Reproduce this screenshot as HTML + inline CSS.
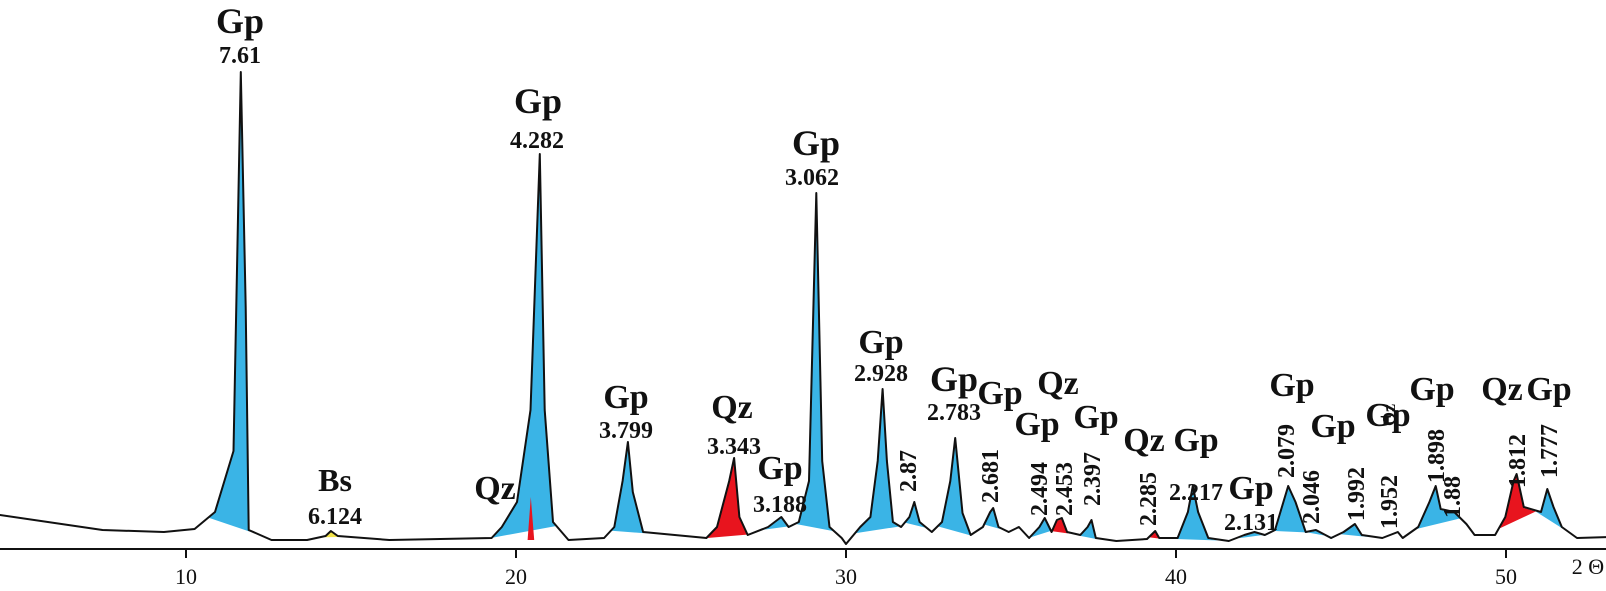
<!DOCTYPE html>
<html><head><meta charset="utf-8"><style>
html,body{margin:0;padding:0;background:#fff}
svg{display:block}
.lb{font-family:"Liberation Serif",serif;font-weight:bold;fill:#111}
.tk{font-family:"Liberation Serif",serif;fill:#111;font-size:22px}
</style></head><body>
<svg id="chart" width="1606" height="591" viewBox="0 0 1606 591" xmlns="http://www.w3.org/2000/svg">
<g id="fills"></g>
<g id="trace"></g>
<g id="axis"></g>
<g id="labels"></g>
</svg>
<script>
const twoTheta=[4.36,7.47,9.33,10.26,10.88,11.44,11.66,11.81,11.90,12.59,13.67,14.23,14.39,14.60,16.16,19.26,19.57,20.03,20.44,20.72,20.87,21.12,21.59,22.67,22.98,23.23,23.39,23.54,23.85,25.77,26.09,26.46,26.61,26.77,27.02,27.64,28.04,28.26,28.57,28.88,29.10,29.28,29.50,29.87,30.00,30.43,30.74,30.96,31.11,31.24,31.42,31.67,31.92,32.07,32.23,32.60,32.91,33.16,33.31,33.53,33.78,34.15,34.37,34.46,34.62,34.93,35.24,35.55,35.86,36.02,36.23,36.39,36.54,36.70,37.10,37.32,37.44,37.57,38.19,39.12,39.37,39.49,40.05,40.36,40.51,40.67,40.98,41.60,42.07,42.38,42.69,43.00,43.40,43.62,43.93,44.24,44.70,45.08,45.42,45.63,46.25,46.72,46.87,47.34,47.68,47.87,48.02,48.43,48.80,49.05,49.67,49.98,50.23,50.32,50.54,51.06,51.25,51.44,51.69,52.15,54.20];
const intensity=[34,19,17,20,37,98,477,242,19,9,9,13,18,13,9,11,22,47,139,395,139,27,9,11,22,68,107,57,17,11,22,68,91,32,14,22,32,22,27,68,356,88,22,11,5,22,32,88,160,88,27,22,32,47,27,17,27,68,111,36,14,22,37,41,22,17,22,11,22,31,17,29,31,17,14,22,29,11,8,10,18,11,11,37,63,37,11,8,14,17,14,19,63,47,17,19,11,17,25,14,11,17,11,22,47,63,40,37,25,14,14,32,68,75,42,37,60,42,22,11,13];
const segStart=[10.7,19.3,22.9,25.8,27.5,28.5,30.3,31.8,32.8,34.2,35.6,36.2,37.0,39.2,40.0,41.9,43.0,44.0,45.0,47.3,48.6,49.8,50.9,14.2];
const segEnd=[12.0,21.2,24.0,27.0,28.4,29.6,31.6,32.4,33.8,34.7,36.2,36.8,37.6,39.6,41.3,42.8,44.0,44.8,45.9,48.6,49.1,50.9,51.7,14.6];
const segPhase=["Gp","Gp","Gp","Qz","Gp","Gp","Gp","Gp","Gp","Gp","Gp","Qz","Gp","Qz","Gp","Gp","Gp","Gp","Gp","Gp","Gp","Qz","Gp","Bs"];
const spikeTheta=[20.35,20.45,20.55];
const spikeInt=[9,52,9];
const tickValues=[10,20,30,40,50];
const tickLabels=["10","20","30","40","50"];
const NS="http://www.w3.org/2000/svg";
const xS=t=>186+(t-10)*33;
const yS=v=>549-v;
const col={Gp:"#3ab4e6",Qz:"#e8141e",Bs:"#f2e34a"};
function interp(t){for(let i=0;i<twoTheta.length-1;i++){if(t>=twoTheta[i]&&t<=twoTheta[i+1]){const f=(t-twoTheta[i])/(twoTheta[i+1]-twoTheta[i]);return intensity[i]+f*(intensity[i+1]-intensity[i]);}}return intensity[intensity.length-1];}
const fills=document.getElementById('fills');
for(let s=0;s<segStart.length;s++){
  const pts=[[segStart[s],interp(segStart[s])]];
  for(let i=0;i<twoTheta.length;i++){if(twoTheta[i]>segStart[s]&&twoTheta[i]<segEnd[s])pts.push([twoTheta[i],intensity[i]]);}
  pts.push([segEnd[s],interp(segEnd[s])]);
  const p=document.createElementNS(NS,'polygon');
  p.setAttribute('points',pts.map(q=>xS(q[0]).toFixed(1)+','+(yS(q[1])+1).toFixed(1)).join(' '));
  p.setAttribute('fill',col[segPhase[s]]);
  
  
  fills.appendChild(p);
}
const sp=document.createElementNS(NS,'polygon');
sp.setAttribute('points',spikeTheta.map((t,i)=>xS(t).toFixed(1)+','+yS(spikeInt[i]).toFixed(1)).join(' '));
sp.setAttribute('fill',col.Qz);


fills.appendChild(sp);
const tr=document.createElementNS(NS,'polyline');
tr.setAttribute('points',twoTheta.map((t,i)=>xS(t).toFixed(1)+','+yS(intensity[i]).toFixed(1)).join(' '));
tr.setAttribute('fill','none');tr.setAttribute('stroke','#111');tr.setAttribute('stroke-width','2');tr.setAttribute('stroke-linejoin','round');


document.getElementById('trace').appendChild(tr);
const ax=document.getElementById('axis');
const al=document.createElementNS(NS,'line');
al.setAttribute('x1',0);al.setAttribute('x2',1606);al.setAttribute('y1',549);al.setAttribute('y2',549);al.setAttribute('stroke','#111');al.setAttribute('stroke-width','2');


ax.appendChild(al);
tickValues.forEach((v,i)=>{
  const l=document.createElementNS(NS,'line');
  l.setAttribute('x1',xS(v));l.setAttribute('x2',xS(v));l.setAttribute('y1',549);l.setAttribute('y2',558);l.setAttribute('stroke','#111');l.setAttribute('stroke-width','2');
  
  
  ax.appendChild(l);
  const t=document.createElementNS(NS,'text');
  t.setAttribute('x',xS(v));t.setAttribute('y',584);t.setAttribute('text-anchor','middle');t.setAttribute('class','tk');t.textContent=tickLabels[i];
  
  
  ax.appendChild(t);
});
const xt=document.createElementNS(NS,'text');
xt.setAttribute('x',1588);xt.setAttribute('y',574);xt.setAttribute('text-anchor','middle');xt.setAttribute('class','tk');xt.setAttribute('font-size','20');xt.textContent='2 Θ';


ax.appendChild(xt);
const labTxt=["Gp","7.61","Gp","4.282","Gp","3.062","Bs","6.124","Qz","Gp","3.799","Qz","3.343","Gp","3.188","Gp","2.928","2.87","Gp","2.783","Gp","2.681","Qz","Gp","2.494","2.453","Gp","2.397","Qz","2.285","Gp","2.217","Gp","2.131","Gp","2.079","Gp","2.046","Gp","1.992","1.952","Qz","Gp","1.898","1.88","Qz","1.812","Gp","1.777"];
const labX=[240,240,538,537,816,812,335,335,495,626,626,732,734,780,780,881,881,909,954,954,1000,991,1058,1037,1040,1065,1096,1093,1144,1149,1196,1196,1251,1251,1292,1287,1333,1312,1388,1357,1390,1389,1432,1437,1453,1502,1518,1549,1550];
const labY=[33,63,113,148,155,185,491,524,499,408,438,418,454,479,512,353,381,471,391,420,404,476,394,435,489,489,428,479,451,499,451,500,499,530,396,451,437,497,426,494,502,415,400,456,497,400,461,400,451];
const labSize=[36,24,36,24,36,24,32,24,34,34,24,34,24,34,24,34,24,24,36,24,34,24,34,34,24,24,34,24,34,24,34,24,34,24,34,24,34,24,34,24,24,18,34,24,24,34,24,34,24];
const labRot=[0,0,0,0,0,0,0,0,0,0,0,0,0,0,0,0,0,1,0,0,0,1,0,0,1,1,0,1,0,1,0,0,0,0,0,1,0,1,0,1,1,1,0,1,1,0,1,0,1];
const lg=document.getElementById('labels');
labTxt.forEach((s,i)=>{
  const t=document.createElementNS(NS,'text');
  t.setAttribute('class','lb');t.setAttribute('font-size',labSize[i]);t.setAttribute('text-anchor','middle');
  if(labRot[i]){t.setAttribute('dominant-baseline','central');t.setAttribute('transform','translate('+labX[i]+','+labY[i]+') rotate(-90)');t.setAttribute('x',0);t.setAttribute('y',0);}
  else{t.setAttribute('x',labX[i]);t.setAttribute('y',labY[i]);}
  t.textContent=s;
  
  
  lg.appendChild(t);
});
</script>
</body></html>
